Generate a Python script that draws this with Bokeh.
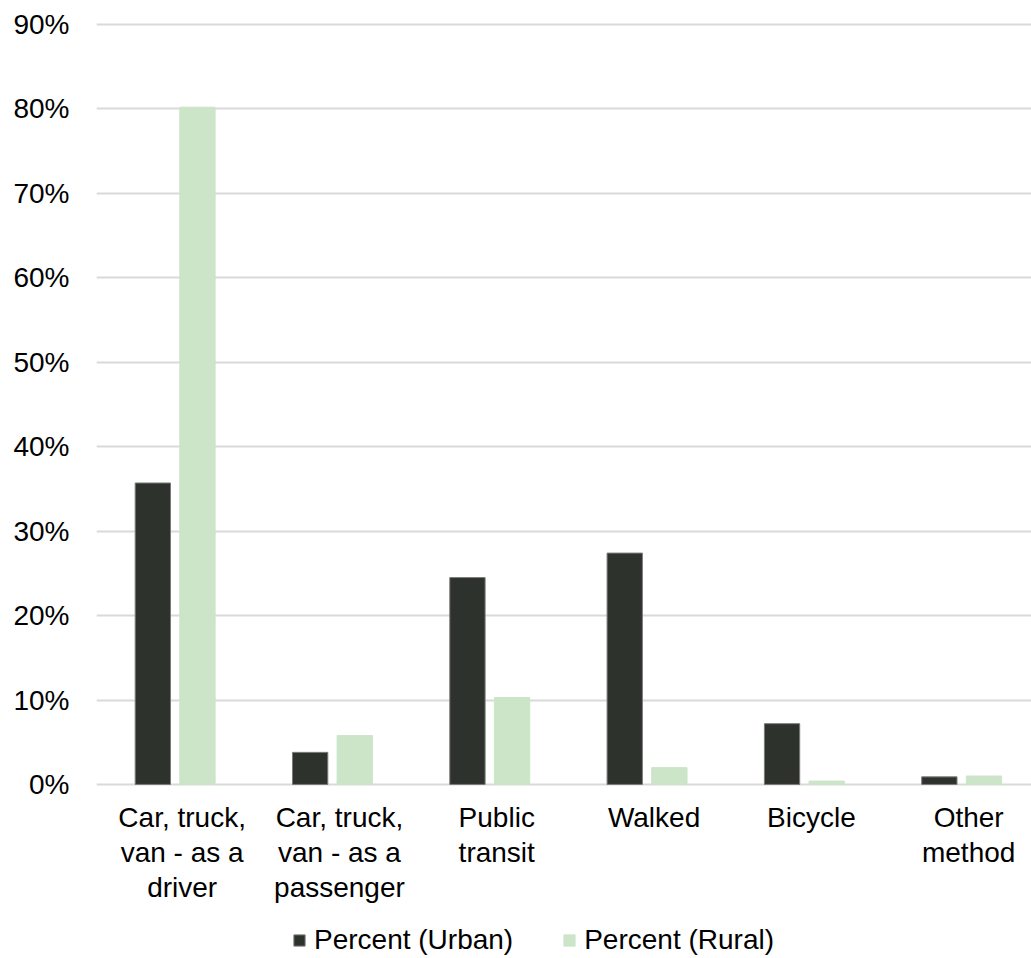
from bokeh.plotting import figure
from bokeh.models import ColumnDataSource, Legend, LegendItem, PrintfTickFormatter, FixedTicker
from bokeh.core.properties import value
from bokeh.transform import dodge
from bokeh.embed import file_html
from bokeh.resources import INLINE
import numpy as np

# Commute method shares, urban vs rural (percent of workers)
categories = [
    "Car, truck,\nvan - as a\ndriver",
    "Car, truck,\nvan - as a\npassenger",
    "Public\ntransit",
    "Walked",
    "Bicycle",
    "Other\nmethod",
]
urban = [35.7, 3.8, 24.5, 27.4, 7.2, 0.9]
rural = [80.2, 5.8, 10.3, 2.0, 0.4, 1.0]
y_ticks = [0, 10, 20, 30, 40, 50, 60, 70, 80, 90]

FONT = "Liberation Sans"
FS = "28px"
URBAN_COLOR = "#2E322C"
RURAL_COLOR = "#CCE5C8"

pos = np.arange(len(categories)) + 0.5
source = ColumnDataSource(dict(x=pos, urban=urban, rural=rural))
label_src = ColumnDataSource(dict(x=pos, y=[0] * len(pos), text=categories))

# The frame runs down to the bottom edge so the category labels and the
# legend sit inside it; the value axis only ticks 0-90.
p = figure(
    width=1031,
    height=958,
    x_range=(0, 5.944),
    y_range=(-20.61, 90.47),
    output_backend="svg",
    toolbar_location=None,
    min_border_left=96,
    min_border_right=0,
    min_border_top=20,
    min_border_bottom=0,
)
p.outline_line_color = None
p.background_fill_color = "white"
p.border_fill_color = "white"

bar_w = 0.2245
off = 0.1418
r_urban = p.vbar(x=dodge("x", -off), top="urban", width=bar_w, source=source,
                 fill_color=URBAN_COLOR, line_color="#7a7a7a", line_width=1)
r_rural = p.vbar(x=dodge("x", off), top="rural", width=bar_w, source=source,
                 fill_color=RURAL_COLOR, line_color=RURAL_COLOR, line_width=1)

# category labels under each group
p.text(x="x", y="y", text="text", source=label_src, x_offset=7, y_offset=18,
       text_align="center", text_baseline="top",
       text_font=value(FONT), text_font_size=FS, text_color="black",
       text_line_height=1.12)

# y axis
p.yaxis.ticker = FixedTicker(ticks=y_ticks)
p.yaxis.formatter = PrintfTickFormatter(format="%d%%")
p.yaxis.axis_line_color = None
p.yaxis.major_tick_line_color = None
p.yaxis.minor_tick_line_color = None
p.yaxis.major_label_standoff = 21
p.yaxis.major_label_text_font = FONT
p.yaxis.major_label_text_font_size = FS
p.yaxis.major_label_text_color = "black"

p.xaxis.visible = False
p.xgrid.grid_line_color = None
p.ygrid.ticker = FixedTicker(ticks=y_ticks)
p.ygrid.grid_line_color = "#d9d9d9"
p.ygrid.grid_line_width = 2

legend = Legend(
    items=[LegendItem(label="Percent (Urban)", renderers=[r_urban]),
           LegendItem(label="Percent (Rural)", renderers=[r_rural])],
    orientation="horizontal",
    location=(196, 2),
    padding=0,
    margin=0,
    spacing=49,
    glyph_width=14,
    glyph_height=14,
    label_standoff=8,
    label_text_font=FONT,
    label_text_font_size=FS,
    label_text_color="black",
    border_line_color=None,
    background_fill_alpha=0,
)
p.add_layout(legend, "center")

open("out.html", "w").write(file_html(p, INLINE))
